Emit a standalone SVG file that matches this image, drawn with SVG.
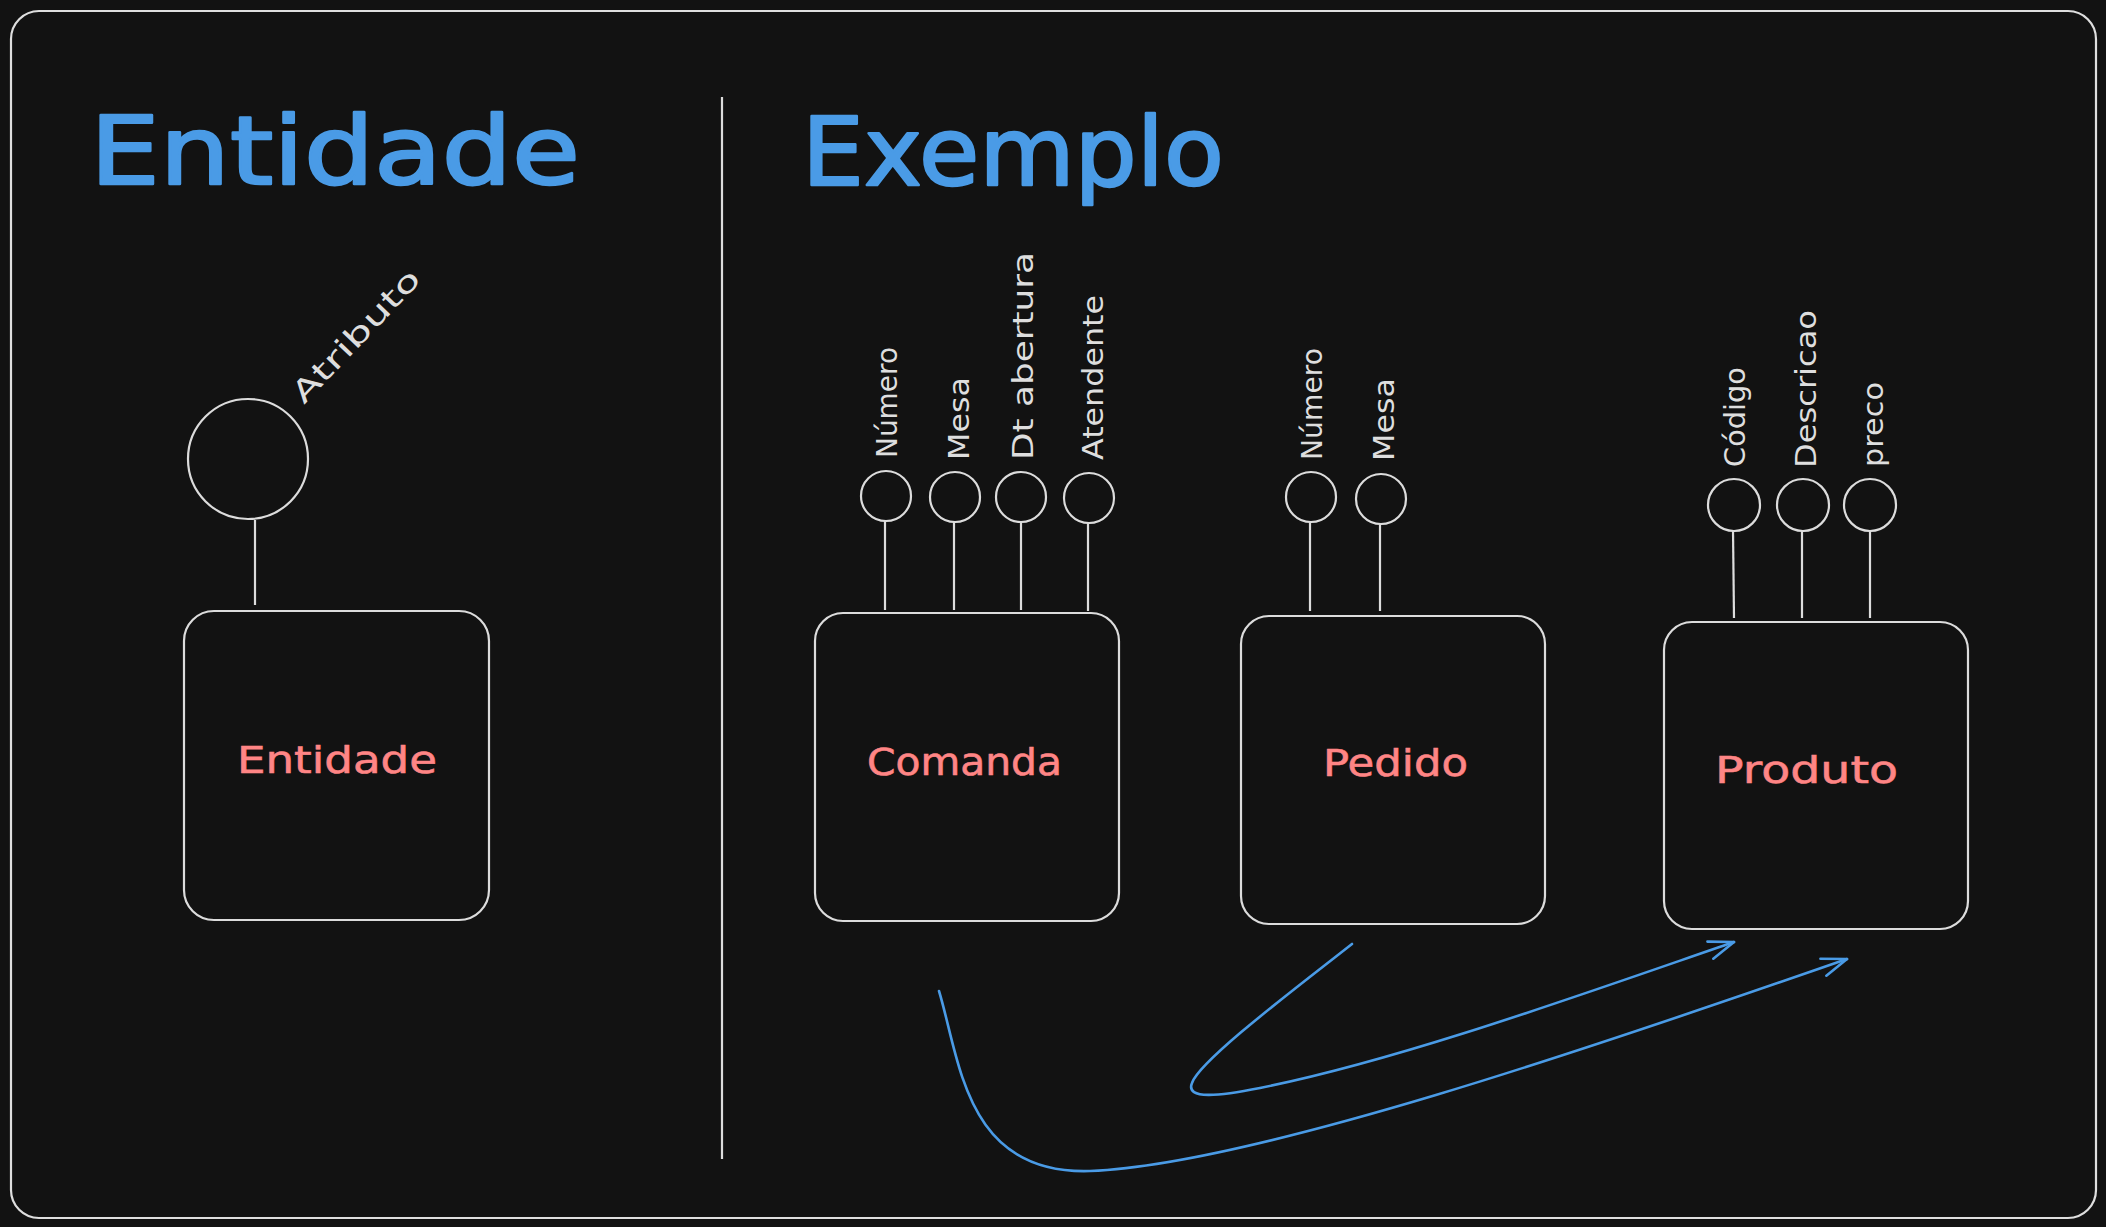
<svg xmlns="http://www.w3.org/2000/svg" width="2106" height="1227" viewBox="0 0 2106 1227">
<style>
.bg{fill:#121212}
.frame{fill:none;stroke:#dedede;stroke-width:2.2}
.shape{fill:#121212;stroke:#dcdcdc;stroke-width:2.2}
.ln{stroke:#dcdcdc;stroke-width:2.2;fill:none}
.title{font-family:"DejaVu Sans",sans-serif;font-size:95px;fill:#4a9be6;stroke:#4a9be6;stroke-width:2.5;stroke-linejoin:round}
.lbl{font-family:"DejaVu Sans",sans-serif;font-size:38px;fill:#ff8585;stroke:#ff8585;stroke-width:0.6}
.attr{font-family:"DejaVu Sans",sans-serif;font-size:29px;fill:#dedede}
.arrow{fill:none;stroke:#4a9be6;stroke-width:2.6;stroke-linecap:round}
</style>
<defs>
<marker id="head" markerUnits="userSpaceOnUse" viewBox="-30 -15 35 30" refX="0" refY="0" markerWidth="35" markerHeight="30" orient="auto">
<path d="M-25,-9 L0,0 L-25,9" fill="none" stroke="#4a9be6" stroke-width="2.6" stroke-linecap="round" stroke-linejoin="round"/>
</marker>
</defs>
<rect class="bg" x="0" y="0" width="2106" height="1227"/>
<rect class="frame" x="11" y="11" width="2085" height="1207" rx="28"/>
<line class="ln" x1="722" y1="97" x2="722" y2="1159"/>
<text class="title" x="90" y="184" textLength="490" lengthAdjust="spacingAndGlyphs">Entidade</text>
<text class="title" x="802" y="185" textLength="422" lengthAdjust="spacingAndGlyphs">Exemplo</text>

<g id="entidade-legend">
<line class="ln" x1="255" y1="520" x2="255" y2="605"/>
<circle class="shape" cx="248" cy="459" r="60"/>
<rect class="shape" x="184" y="611" width="305" height="309" rx="30"/>
<text class="lbl" x="237" y="773" textLength="200" lengthAdjust="spacingAndGlyphs">Entidade</text>
<text class="attr" transform="translate(304,405) rotate(-46.5)" textLength="172" lengthAdjust="spacingAndGlyphs">Atributo</text>
</g>

<g id="comanda">
<line class="ln" x1="885" y1="521" x2="885" y2="610"/>
<line class="ln" x1="954" y1="522" x2="954" y2="610"/>
<line class="ln" x1="1021" y1="522" x2="1021" y2="610"/>
<line class="ln" x1="1088" y1="523" x2="1088" y2="611"/>
<circle class="shape" cx="886" cy="496" r="25"/>
<circle class="shape" cx="955" cy="497" r="25"/>
<circle class="shape" cx="1021" cy="497" r="25"/>
<circle class="shape" cx="1089" cy="498" r="25"/>
<rect class="shape" x="815" y="613" width="304" height="308" rx="28"/>
<text class="lbl" x="867" y="775" textLength="195" lengthAdjust="spacingAndGlyphs">Comanda</text>
<text class="attr" transform="translate(897,458) rotate(-90)" textLength="111" lengthAdjust="spacingAndGlyphs">Número</text>
<text class="attr" transform="translate(969,460) rotate(-90)" textLength="83" lengthAdjust="spacingAndGlyphs">Mesa</text>
<text class="attr" transform="translate(1033,460) rotate(-90)" textLength="208" lengthAdjust="spacingAndGlyphs">Dt abertura</text>
<text class="attr" transform="translate(1103,460) rotate(-90)" textLength="165" lengthAdjust="spacingAndGlyphs">Atendente</text>
</g>

<g id="pedido">
<line class="ln" x1="1310" y1="522" x2="1310" y2="611"/>
<line class="ln" x1="1380" y1="524" x2="1380" y2="611"/>
<circle class="shape" cx="1311" cy="497" r="25"/>
<circle class="shape" cx="1381" cy="499" r="25"/>
<rect class="shape" x="1241" y="616" width="304" height="308" rx="28"/>
<text class="lbl" x="1323" y="776" textLength="145" lengthAdjust="spacingAndGlyphs">Pedido</text>
<text class="attr" transform="translate(1322,460) rotate(-90)" textLength="112" lengthAdjust="spacingAndGlyphs">Número</text>
<text class="attr" transform="translate(1394,461) rotate(-90)" textLength="83" lengthAdjust="spacingAndGlyphs">Mesa</text>
</g>

<g id="produto">
<line class="ln" x1="1733" y1="530" x2="1734" y2="618"/>
<line class="ln" x1="1802" y1="531" x2="1802" y2="618"/>
<line class="ln" x1="1870" y1="531" x2="1870" y2="618"/>
<circle class="shape" cx="1734" cy="505" r="26"/>
<circle class="shape" cx="1803" cy="505" r="26"/>
<circle class="shape" cx="1870" cy="505" r="26"/>
<rect class="shape" x="1664" y="622" width="304" height="307" rx="28"/>
<text class="lbl" x="1715" y="783" textLength="183" lengthAdjust="spacingAndGlyphs">Produto</text>
<text class="attr" transform="translate(1745,467) rotate(-90)" textLength="100" lengthAdjust="spacingAndGlyphs">Código</text>
<text class="attr" transform="translate(1816,468) rotate(-90)" textLength="158" lengthAdjust="spacingAndGlyphs">Descricao</text>
<text class="attr" transform="translate(1883,467) rotate(-90)" textLength="85" lengthAdjust="spacingAndGlyphs">preco</text>
</g>

<g id="connectors">
<path class="arrow" d="M1352,944 C1300,985 1200,1060 1192,1083 C1185,1100 1220,1096 1260,1088 C1400,1060 1580,995 1734,942" marker-end="url(#head)"/>
<path class="arrow" d="M939,991 C960,1060 965,1175 1090,1171 C1250,1165 1600,1045 1847,959" marker-end="url(#head)"/>
</g>
</svg>
